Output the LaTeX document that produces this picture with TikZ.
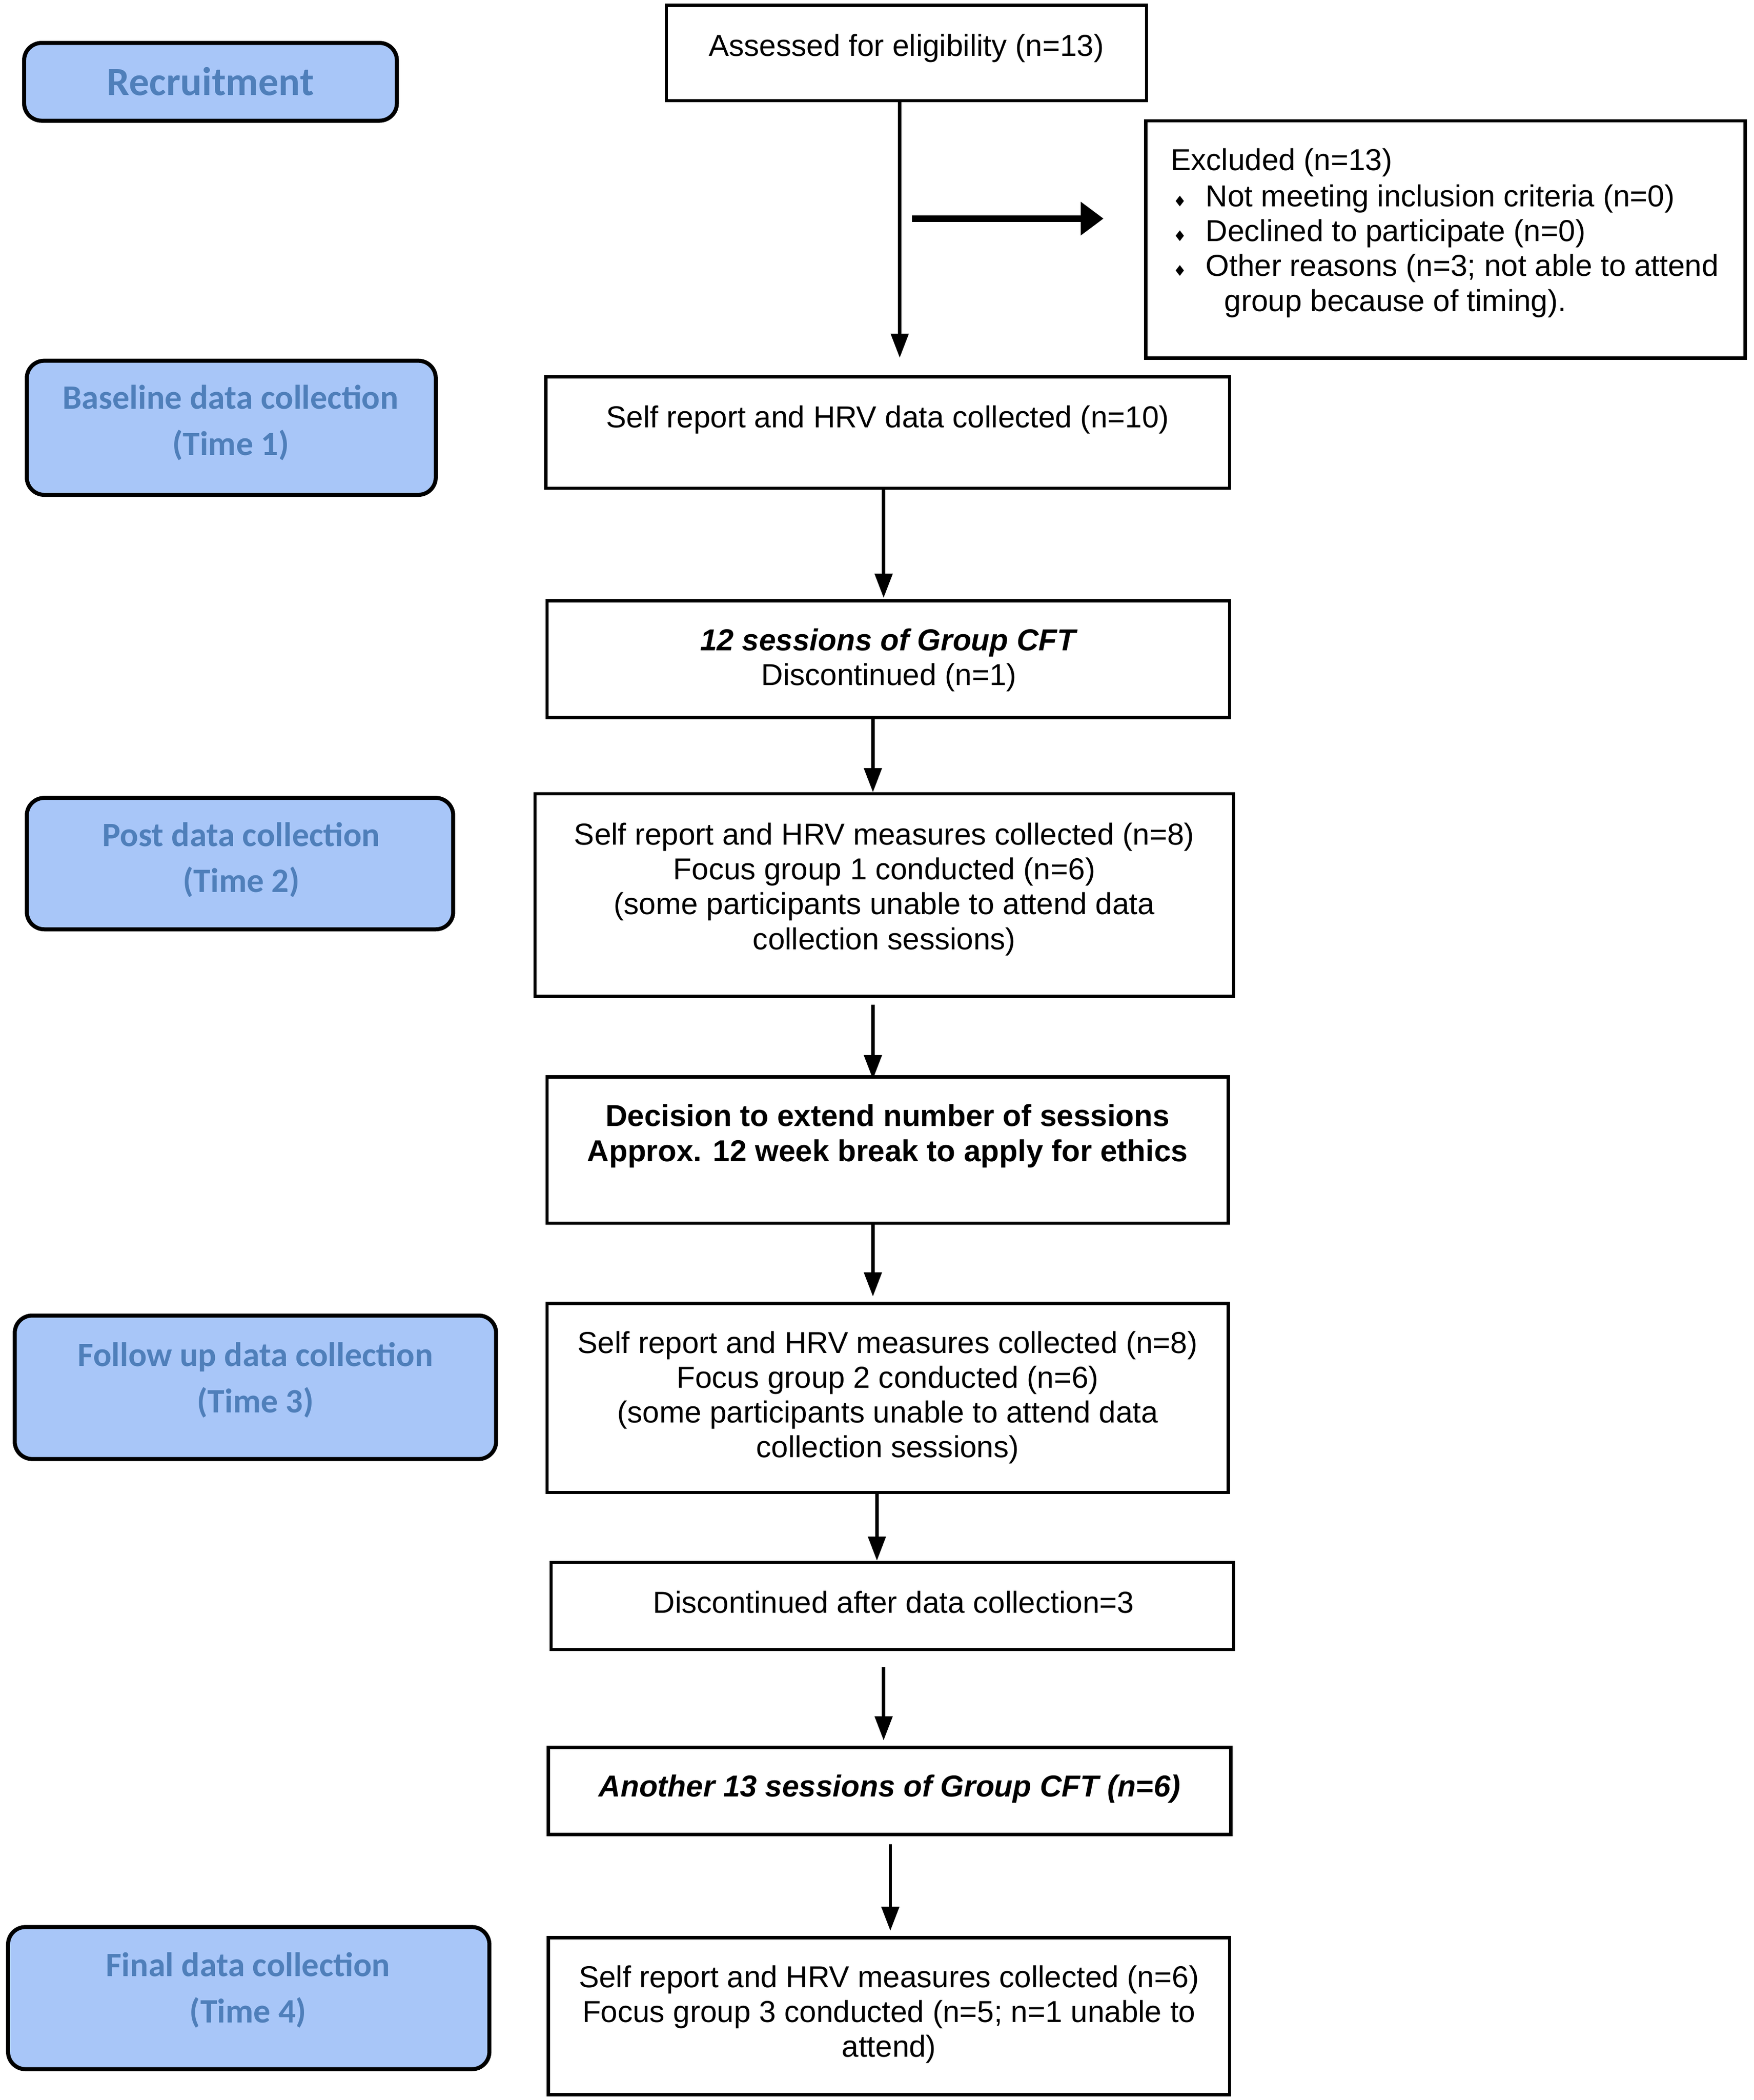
\documentclass[tikz,border=0pt]{standalone}
\usepackage{fontspec}
\setmainfont{Liberation Sans}
\newfontfamily\lblfont{Carlito}
\newfontfamily\symfont{DejaVu Sans}
\usetikzlibrary{arrows.meta}
\definecolor{lblfill}{HTML}{A8C6F8}
\definecolor{lbltext}{HTML}{4F7FBA}
\begin{document}
\begin{tikzpicture}[x=1pt,y=-1pt,
 flowbox/.style={draw=black, line width=2.4pt, rectangle, inner sep=0pt},
 lblbox/.style={draw=black, fill=lblfill, line width=3pt, rounded corners=13pt, rectangle, inner sep=0pt},
 maintext/.style={font=\fontsize{22.6}{26}\selectfont, align=center, inner sep=0pt, anchor=base},
 lefttext/.style={font=\fontsize{22.6}{26}\selectfont, inner sep=0pt, anchor=base west},
 bultext/.style={font=\symfont\fontsize{11}{11}\selectfont, inner sep=0pt, anchor=base west},
 lbltxt/.style={font=\lblfont\bfseries\fontsize{25.5}{34.5}\selectfont, text=lbltext, align=center, inner sep=0pt, anchor=base},
 arr/.style={line width=2.4pt, -{Triangle[length=18pt,width=13pt]}},
 bigarr/.style={line width=5pt, -{Triangle[length=17pt,width=24pt]}},
]
\useasboundingbox (0,0) rectangle (1308,1566);

% ---------- flow boxes ----------
\node[flowbox, minimum width=358pt, minimum height=71pt] (assess) at (676,39.5) {};
\node[flowbox, minimum width=447pt, minimum height=177pt] (excl) at (1078,178.5) {};
\node[flowbox, minimum width=510pt, minimum height=83pt] (selfone) at (662,322.5) {};
\node[flowbox, minimum width=509pt, minimum height=87pt] (sess) at (662.5,491.5) {};
\node[flowbox, minimum width=521pt, minimum height=151pt] (post) at (659.5,667.5) {};
\node[flowbox, minimum width=508pt, minimum height=109pt] (decis) at (662,857.5) {};
\node[flowbox, minimum width=508pt, minimum height=141pt] (fu) at (662,1042.5) {};
\node[flowbox, minimum width=509pt, minimum height=65pt] (disc) at (665.5,1197.5) {};
\node[flowbox, minimum width=509pt, minimum height=65pt] (another) at (663.5,1335.5) {};
\node[flowbox, minimum width=508pt, minimum height=117pt] (final) at (663,1503.5) {};

% ---------- texts in flow boxes (base anchor = last line baseline) ----------
\node[maintext] (tassess) at (676,42) {Assessed for eligibility (n=13)};
\node[lefttext] (texcl) at (873,127) {Excluded (n=13)};
\node[bultext] (b1) at (875,154) {♦};
\node[lefttext] (texa) at (899,154) {Not meeting inclusion criteria (n=0)};
\node[bultext] (b2) at (875,180) {♦};
\node[lefttext] (texb) at (899,180) {Declined to participate (n=0)};
\node[bultext] (b3) at (875,206) {♦};
\node[lefttext] (texc) at (899,206) {Other reasons (n=3; not able to attend};
\node[lefttext] (texd) at (913,232) {group because of timing).};
\node[maintext] (tselfone) at (662,319) {Self report and HRV data collected (n=10)};
\node[maintext] (tsess) at (663,511) {\textbf{\textit{12 sessions of Group CFT}}\\Discontinued (n=1)};
\node[maintext] (tpost) at (659.5,708) {Self report and HRV measures collected (n=8)\\Focus group 1 conducted (n=6)\\(some participants unable to attend data\\collection sessions)};
\node[maintext,font=\bfseries\fontsize{22.6}{26}\selectfont] (tdecis) at (662,866) {Decision to extend number of sessions\\Approx. 12 week break to apply for ethics};
\node[maintext] (tfu) at (662,1087) {Self report and HRV measures collected (n=8)\\Focus group 2 conducted (n=6)\\(some participants unable to attend data\\collection sessions)};
\node[maintext] (tdisc) at (666.5,1203) {Discontinued after data collection=3};
\node[maintext,font=\bfseries\itshape\fontsize{22.6}{26}\selectfont] (tanother) at (663.5,1340) {Another 13 sessions of Group CFT (n=6)};
\node[maintext] (tfinal) at (663,1534) {Self report and HRV measures collected (n=6)\\Focus group 3 conducted (n=5; n=1 unable to\\attend)};

% ---------- stage labels ----------
\node[lblbox, minimum width=278pt, minimum height=58pt] (recruit) at (157,61) {};
\node[lblbox, minimum width=305pt, minimum height=100pt] (basel) at (172.5,319) {};
\node[lblbox, minimum width=318pt, minimum height=98pt] (postl) at (179,644) {};
\node[lblbox, minimum width=359pt, minimum height=107pt] (ful) at (190.5,1034.5) {};
\node[lblbox, minimum width=359pt, minimum height=106pt] (finall) at (185.5,1490) {};

\node[lbltxt,font=\lblfont\bfseries\fontsize{30}{34}\selectfont] (trecruit) at (157,71) {Recruitment};
\node[lbltxt] (tbasel) at (172,339.5) {Baseline data collection\\(Time 1)};
\node[lbltxt] (tpostl) at (180,665.5) {Post data collection\\(Time 2)};
\node[lbltxt] (tful) at (190.5,1053.5) {Follow up data collection\\(Time 3)};
\node[lbltxt] (tfinall) at (185,1508.5) {Final data collection\\(Time 4)};

% ---------- connectors ----------
\draw[arr, shorten >=13pt] ([xshift=-5pt]assess.south) -- ([xshift=-5pt]assess.south |- selfone.north);
\coordinate (hs) at (680,163);
\coordinate (he) at (823,163);
\draw[bigarr] (hs) -- (he);
\draw[arr, shorten >=1pt] ([xshift=-3pt]selfone.south) -- ([xshift=-3pt]selfone.south |- sess.north);
\draw[arr] ([xshift=-11.5pt]sess.south) -- ([xshift=-11.5pt]sess.south |- post.north);
\draw[arr, shorten <=5pt, shorten >=-3pt] ([xshift=-8.5pt]post.south) -- ([xshift=-8.5pt]post.south |- decis.north);
\draw[arr, shorten >=4pt] ([xshift=-11pt]decis.south) -- ([xshift=-11pt]decis.south |- fu.north);
\draw[arr] ([xshift=-8pt]fu.south) -- ([xshift=-8pt]fu.south |- disc.north);
\draw[arr, shorten <=12pt, shorten >=4pt] ([xshift=-6.5pt]disc.south) -- ([xshift=-6.5pt]disc.south |- another.north);
\draw[arr, shorten <=6pt, shorten >=4pt] ([xshift=0.5pt]another.south) -- ([xshift=0.5pt]another.south |- final.north);
\end{tikzpicture}
\end{document}
